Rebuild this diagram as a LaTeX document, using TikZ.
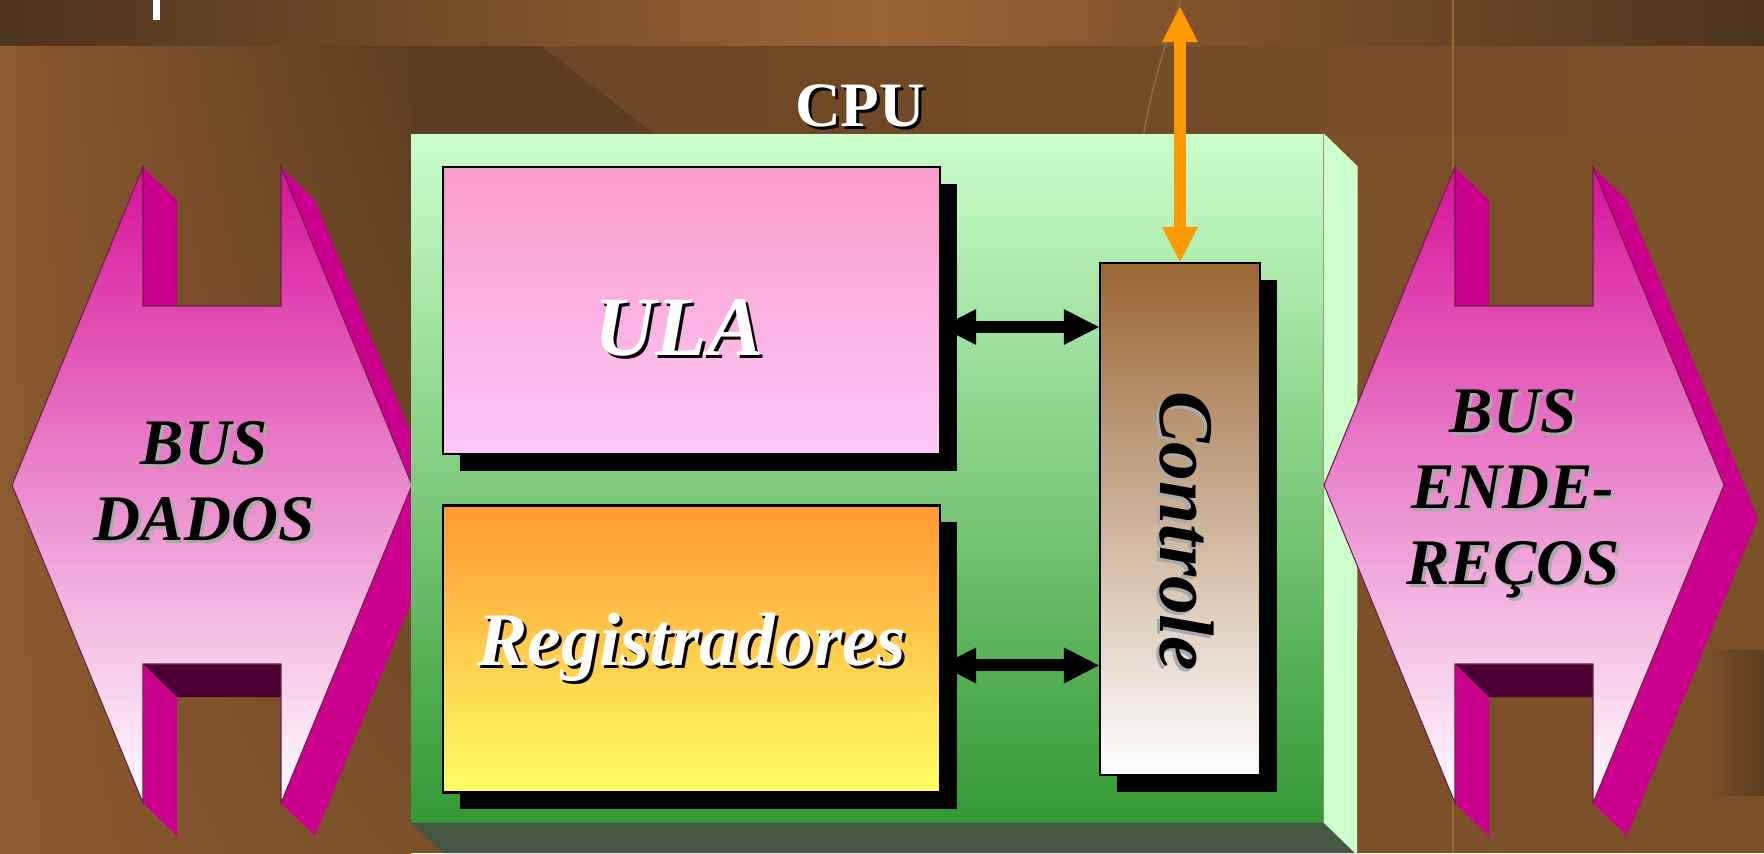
\documentclass[tikz,border=0pt]{standalone}
\usepackage{fontspec}
\setmainfont{Liberation Serif}
\usetikzlibrary{arrows.meta,shadows,shadings,positioning}

\definecolor{bgbrown}{HTML}{7B5029}
\definecolor{banddark}{HTML}{4D341D}
\definecolor{bandlight}{HTML}{9A6434}
\definecolor{striplight}{HTML}{8B5A2F}
\definecolor{stripdark}{HTML}{5C3D1F}
\definecolor{midbrown}{HTML}{6A4525}
\definecolor{tracebrown}{HTML}{9B6A38}
\definecolor{cputop}{HTML}{CCFFCC}
\definecolor{cpubot}{HTML}{339933}
\definecolor{cpufloor}{HTML}{465744}
\definecolor{ulatop}{HTML}{F99CC8}
\definecolor{ulabot}{HTML}{FDC8F9}
\definecolor{regtop}{HTML}{FF9933}
\definecolor{regbot}{HTML}{FFFF66}
\definecolor{ctltop}{HTML}{996633}
\definecolor{bustop}{HTML}{D6129A}
\definecolor{busmid}{HTML}{E878C4}
\definecolor{busside}{HTML}{CC008E}
\definecolor{busdeep}{HTML}{4A0033}
\definecolor{busedge}{HTML}{6A2040}
\definecolor{extorange}{HTML}{FF9900}
\definecolor{txtgrey}{HTML}{AAAAAA}

\pgfdeclarelayer{back}
\pgfdeclarelayer{wires}
\pgfsetlayers{back,wires,main}

% text with a copy of itself set behind, a little down and right
\newcommand{\shadowed}[2]{\makebox[0pt][l]{\kern0.3mm\raisebox{-0.3mm}{\textcolor{#1}{#2}}}#2}

\tikzset{
  unit/.style={draw=black, line width=0.7pt, inner sep=0pt,
    drop shadow={shadow xshift=1.7mm, shadow yshift=-1.7mm, fill=black, opacity=1}},
  cputext/.style={text=white, inner sep=0pt, font=\fontsize{18}{20}\selectfont\bfseries},
  unittext/.style={text=white, inner sep=0pt, font=\fontsize{24}{28}\selectfont\bfseries\itshape},
  regtext/.style={text=white, font=\fontsize{21.5}{24}\selectfont\bfseries\itshape},
  ctltext/.style={text=black, rotate=-90, inner sep=0pt, font=\fontsize{22}{24}\selectfont\bfseries\itshape},
  bustext/.style={text=black, align=center, inner sep=0pt, font=\fontsize{18.5}{21.6}\selectfont\bfseries\itshape},
  link/.style={line width=1.2mm, <->, >={Triangle[length=3.5mm,width=3.6mm,line width=0pt]}},
  trace/.style={draw=tracebrown, line width=0.4pt},
  pics/busshape/.style={code={
    % sides seen through the notches and on the right
    \fill[busside] (1.31,3.18) -- (1.65,2.85) -- (1.65,1.79) -- (1.31,1.79) -- cycle;
    \fill[busside] (2.69,3.18) -- (3.03,2.85) -- (4.34,-0.33) -- (4.00,0) -- cycle;
    \fill[busside] (4.00,0) -- (4.34,-0.33) -- (3.03,-3.51) -- (2.69,-3.18) -- cycle;
    \fill[busside] (1.31,-1.79) -- (1.65,-2.12) -- (1.65,-3.51) -- (1.31,-3.18) -- cycle;
    \fill[busdeep] (1.31,-1.79) -- (2.69,-1.79) -- (2.69,-2.12) -- (1.65,-2.12) -- cycle;
    % front face
    \path[draw=busedge, line width=0.3pt, top color=bustop, middle color=busmid, bottom color=white]
      (0,0) -- (1.31,3.18) -- (1.31,1.79) -- (2.69,1.79) -- (2.69,3.18) -- (4.00,0)
      -- (2.69,-3.18) -- (2.69,-1.79) -- (1.31,-1.79) -- (1.31,-3.18) -- cycle;
  }}
}

\begin{document}
\begin{tikzpicture}
\useasboundingbox (0,0) rectangle (17.64,8.53);

% units inside the processor
\node[unit, top color=ulatop, bottom color=ulabot, minimum width=4.97cm, minimum height=2.87cm] (ula) at (6.915,5.425) {};
\node[unit, regtext, top color=regtop, bottom color=regbot, minimum width=4.97cm, minimum height=2.87cm,
  below=0.49cm of ula] (reg) {\shadowed{black}{Registradores}};
\node[unit, top color=ctltop, bottom color=white, minimum width=1.6cm, minimum height=5.12cm] (ctl) at (11.80,3.34) {};

\node[unittext] (ulalbl) at (6.79,5.23) {\shadowed{black}{ULA}};
\node[ctltext] (ctllbl) at (11.85,3.22) {\shadowed{txtgrey}{Controle}};
\node[cputext] (cpulbl) at (8.60,7.46) {\shadowed{black}{CPU}};
\node[bustext] (dados) at (2.04,3.70) {\shadowed{txtgrey}{BUS}\\\shadowed{txtgrey}{DADOS}};
\node[bustext] (enderecos) at (15.13,3.58) {\shadowed{txtgrey}{BUS}\\\shadowed{txtgrey}{ENDE-}\\\shadowed{txtgrey}{REÇOS}};

\begin{pgfonlayer}{wires}
  \coordinate (ulaport) at ([yshift=-1.65mm]ula.east);
  \coordinate (regport) at ([yshift=-1.65mm]reg.east);
  \coordinate (ext) at (11.80,8.46);
  \draw[link] (ulaport) -- (ulaport -| ctl.west);
  \draw[link] (regport) -- (regport -| ctl.west);
  \draw[link, draw=extorange] (ctl.north) -- (ext);
\end{pgfonlayer}

\begin{pgfonlayer}{back}
  % backdrop
  \fill[bgbrown] (0,0) rectangle (17.64,8.53);
  \shade[upper left=striplight, lower left=striplight, upper right=stripdark, lower right=bgbrown]
    (0,0) rectangle (4.11,8.08);
  \shade[left color=midbrown, right color=bgbrown] (4.11,7.19) rectangle (17.64,8.08);
  \fill[stripdark] (4.11,8.08) -- (5.4,8.08) -- (6.54,7.19) -- (4.11,7.19) -- cycle;
  \shade[left color=bgbrown, right color=stripdark] (17.05,0.58) rectangle (17.64,2.03);
  \shade[left color=banddark, right color=banddark, middle color=bandlight] (0,8.08) rectangle (17.64,8.53);
  \fill[white] (1.53,8.33) rectangle (1.60,8.53);
  \draw[trace] (14.53,0) -- (14.53,8.53);
  \draw[trace] (11.81,8.53) .. controls (11.62,8.0) and (11.5,7.6) .. (11.44,7.19);

  \pic at (0.12,3.68) {busshape};

  % processor block with its right and lower sides
  \node[top color=cputop, bottom color=cpubot, minimum width=9.12cm, minimum height=6.88cm, inner sep=0pt] (cpu) at (8.67,3.75) {};
  \fill[cpufloor] (cpu.south west) -- (cpu.south east) -- (13.55,0) -- (4.43,0) -- cycle;
  \fill[cputop] (cpu.north east) -- ++(0.34,-0.33) -- (13.57,0) -- (13.55,0) -- (cpu.south east) -- cycle;

  \pic at (13.24,3.68) {busshape};
\end{pgfonlayer}
\end{tikzpicture}
\end{document}
